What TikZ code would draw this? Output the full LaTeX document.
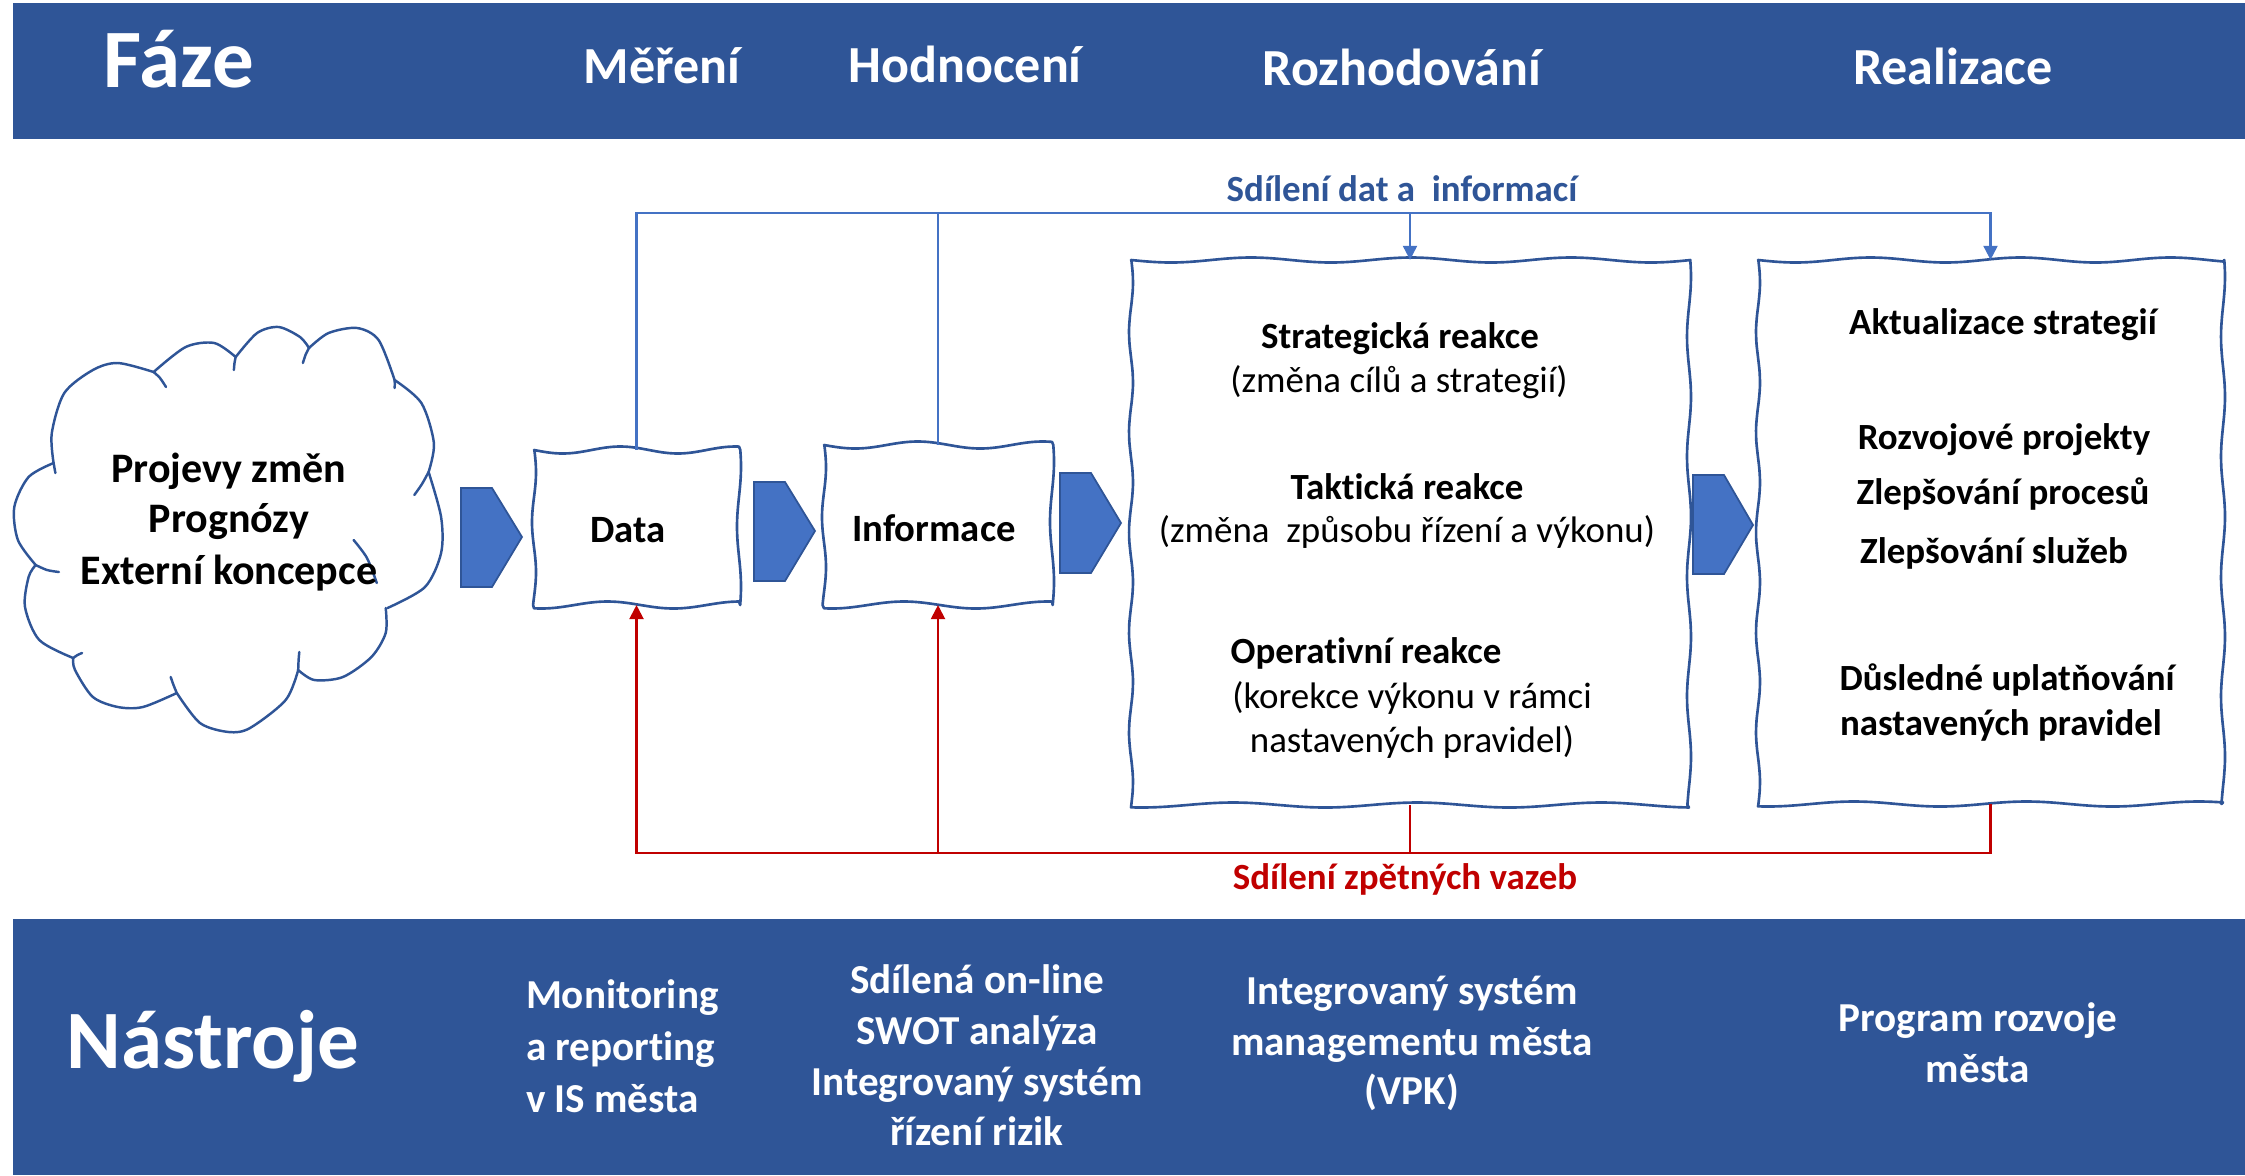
\documentclass[tikz,border=0pt]{standalone}
\usepackage{fontspec}
\setmainfont{Carlito}[Ligatures={CommonOff}]
\usetikzlibrary{arrows.meta}
\definecolor{bandc}{HTML}{2F5597}
\definecolor{chevc}{HTML}{4472C4}
\definecolor{boxc}{HTML}{2F5597}
\definecolor{connc}{HTML}{4472C4}
\definecolor{fbc}{HTML}{C00000}
\tikzset{
  txt/.style={anchor=base, inner sep=0pt, outer sep=0pt},
  tbig/.style={txt, text=white, font=\bfseries\fontsize{23.6}{28}\selectfont},
  tphase/.style={txt, text=white, font=\bfseries\fontsize{14.8}{18}\selectfont},
  ttool/.style={txt, text=white, font=\bfseries\fontsize{11.7}{14}\selectfont},
  tcloud/.style={txt, font=\bfseries\fontsize{11.95}{14}\selectfont},
  tboxt/.style={txt, font=\bfseries\fontsize{11}{13}\selectfont},
  tinb/.style={txt, font=\bfseries\fontsize{10.5}{12.5}\selectfont},
  tinr/.style={txt, font=\fontsize{10.5}{12.5}\selectfont},
  tshare/.style={txt, text=bandc, font=\bfseries\fontsize{10.5}{12.5}\selectfont},
  tfeed/.style={txt, text=fbc, font=\bfseries\fontsize{10.5}{12.5}\selectfont},
  holder/.style={inner sep=0pt, outer sep=0pt, draw=none},
  boxline/.style={draw=boxc, line width=0.75pt, line join=round},
  cloudline/.style={draw=boxc, line width=0.7pt, line cap=round},
  chevst/.style={fill=chevc, draw=bandc, line width=0.5pt},
  bl/.style={draw=connc, line width=0.6pt},
  rl/.style={draw=fbc, line width=0.6pt},
  tip/.style={-{Triangle[length=0.14cm,width=0.14cm]}}
}
\newcommand{\wbox}[6]{%
  \draw[boxline] plot[domain=#1:#3,samples=50,smooth] (\x,{#2+#5*sin(((\x-#1)/#6)*360)})
   -- plot[domain=#2:#4,samples=40,smooth] ({#3+2*sin(((\x-#2)/120)*360+40)},\x)
   -- plot[domain=#3:#1,samples=50,smooth] (\x,{#4+#5*sin(((\x-#1)/(#6*1.15))*360+70)})
   -- plot[domain=#4:#2,samples=40,smooth] ({#1+2*sin(((\x-#2)/100)*360+10)},\x)
   -- cycle;}
\begin{document}
\begin{tikzpicture}[x=0.01cm, y=-0.01cm]
\useasboundingbox (0,0) rectangle (2245,1175);
% bands
\fill[bandc] (13,3) rectangle (2245,139);
\fill[bandc] (13,919) rectangle (2245,1175);
\node[tbig] (faze) at (179,87) {Fáze};
\node[tphase] (mereni) at (662,83) {Měření};
\node[tphase] (hodnoceni) at (965,82) {Hodnocení};
\node[tphase] (rozhodovani) at (1402,85) {Rozhodování};
\node[tphase] (realizace) at (1953,84) {Realizace};

\node[tbig] (nastroje) at (213,1068) {Nástroje};
\node[ttool, anchor=base west] (t1a) at (526,1008) {Monitoring};
\node[ttool, anchor=base west] (t1b) at (526,1060) {a reporting};
\node[ttool, anchor=base west] (t1c) at (526,1112) {v IS města};
\node[ttool] (t2a) at (977,993) {Sdílená on-line};
\node[ttool] (t2b) at (977,1044) {SWOT analýza};
\node[ttool] (t2c) at (977,1095) {Integrovaný systém};
\node[ttool] (t2d) at (977,1145) {řízení rizik};
\node[ttool] (t3a) at (1412,1004) {Integrovaný systém};
\node[ttool] (t3b) at (1412,1055) {managementu města};
\node[ttool] (t3c) at (1412,1104) {(VPK)};
\node[ttool] (t4a) at (1978,1031) {Program rozvoje};
\node[ttool] (t4b) at (1978,1082) {města};

% cloud
\node[holder, minimum width=4.23cm, minimum height=4.07cm] (cloud) at (228,530) {};
\draw[cloudline]
  plot[smooth] coordinates {(53.6,463) (51.8,433) (64.3,393) (92.9,370) (117.9,363) (153.6,372)}
  plot[smooth] coordinates {(153.6,372) (185.7,347) (214.3,343) (235.7,357)}
  plot[smooth] coordinates {(235.7,357) (257.1,333) (278.6,327) (300,337) (309,348)}
  plot[smooth] coordinates {(309,348) (328.6,333) (357.1,328) (378.6,340) (394.6,380)}
  plot[smooth] coordinates {(394.6,380) (421.4,403) (433.9,443) (428.6,472)}
  plot[smooth] coordinates {(428.6,472) (441.1,517) (441.1,553) (425,587) (387.5,608)}
  plot[smooth] coordinates {(385.7,608) (385.7,633) (371.4,657) (342.9,677) (314.3,680) (298.2,670)}
  plot[smooth] coordinates {(298.2,670) (285.7,700) (250,728) (228.6,732) (200,723) (176.8,693)}
  plot[smooth] coordinates {(176.8,693) (142.9,707) (117.9,707) (92.9,697) (75,670) (73.2,658)}
  plot[smooth] coordinates {(73.2,658) (39.3,640) (25,607) (28.6,577) (35.7,565)}
  plot[smooth] coordinates {(35.7,565) (17.9,540) (14.3,507) (28.6,477) (53.6,463)};
\draw[cloudline]
  plot[smooth] coordinates {(153.6,372) (160,378) (166,387)}
  plot[smooth] coordinates {(235.7,357) (234.5,363) (233.9,370)}
  plot[smooth] coordinates {(309,348) (305.5,355) (302.9,363)}
  plot[smooth] coordinates {(394.6,380) (394.8,384) (394.6,388)}
  plot[smooth] coordinates {(428.6,472) (422,484) (414.3,495)}
  plot[smooth] coordinates {(353.6,540) (367,558) (376.8,583)}
  plot[smooth] coordinates {(298.2,670) (298.6,660) (299.3,652)}
  plot[smooth] coordinates {(176.8,693) (173.5,685) (170.7,677)}
  plot[smooth] coordinates {(73.2,658) (77.5,655) (82.1,653)}
  plot[smooth] coordinates {(35.7,565) (47,570) (58.9,572)}
  plot[smooth] coordinates {(53.6,463) (54.5,468) (55.4,473)};
\node[tcloud] (c1) at (229,482) {Projevy změn};
\node[tcloud] (c2) at (229,532) {Prognózy};
\node[tcloud] (c3) at (229,584) {Externí koncepce};

% chevrons
\path[chevst] (461,488) -- (492,488) -- (522,537) -- (492,587) -- (461,587) -- cycle;
\path[chevst] (754,482) -- (785,482) -- (815,531) -- (785,581) -- (754,581) -- cycle;
\path[chevst] (1060,473) -- (1091,473) -- (1121,523) -- (1091,573) -- (1060,573) -- cycle;
\path[chevst] (1693,475) -- (1724,475) -- (1753,525) -- (1724,574) -- (1693,574) -- cycle;

% boxes
\node[holder, minimum width=2.05cm, minimum height=1.55cm] (data) at (636.5,527.5) {};
\node[holder, minimum width=2.28cm, minimum height=1.6cm] (info) at (938,525) {};
\node[holder, minimum width=5.58cm, minimum height=5.45cm] (big) at (1410,532.5) {};
\node[holder, minimum width=4.65cm, minimum height=5.44cm] (real) at (1990.5,532) {};
\wbox{534}{450}{739}{605}{3.5}{115}
\wbox{824}{445}{1052}{605}{3.5}{125}
\wbox{1131}{260}{1689}{805}{2.5}{160}
\wbox{1758}{260}{2223}{804}{2.5}{150}

\node[tboxt] (datat) at (628,542) {Data};
\node[tboxt] (infot) at (934,541) {Informace};

\node[tinb] (b1) at (1400,348) {Strategická reakce};
\node[tinr] (b2) at (1399,392) {(změna cílů a strategií)};
\node[tinb] (b3) at (1407,499) {Taktická reakce};
\node[tinr] (b4) at (1407,542) {(změna\ \ způsobu řízení a výkonu)};
\node[tinb] (b5) at (1366,663) {Operativní reakce};
\node[tinr] (b6) at (1412,708) {(korekce výkonu v rámci};
\node[tinr] (b7) at (1412,752) {nastavených pravidel)};

\node[tinb] (r1) at (2003,334) {Aktualizace strategií};
\node[tinb] (r2) at (2004,449) {Rozvojové projekty};
\node[tinb] (r3) at (2003,504) {Zlepšování procesů};
\node[tinb] (r4) at (1994,563) {Zlepšování služeb};
\node[tinb] (r5) at (2007,690) {Důsledné uplatňování};
\node[tinb] (r6) at (2001,735) {nastavených pravidel};

% sharing connectors
\coordinate (tb) at (0,213);
\coordinate (rb) at (0,853);
\draw[bl, tip] (data.north) |- (real.north |- tb) -- (real.north);
\draw[bl] (info.north) -- (info.north |- tb);
\draw[bl, tip] (big.north |- tb) -- (big.north);
\node[tshare] (sharelbl) at (1402,201) {Sdílení dat a\ \ informací};

\draw[rl, tip] (real.south) |- (data.south |- rb) -- (data.south);
\draw[rl] (big.south) -- (big.south |- rb);
\draw[rl, tip] (info.south |- rb) -- (info.south);
\node[tfeed] (feedlbl) at (1405,889) {Sdílení zpětných vazeb};
\end{tikzpicture}
\end{document}
